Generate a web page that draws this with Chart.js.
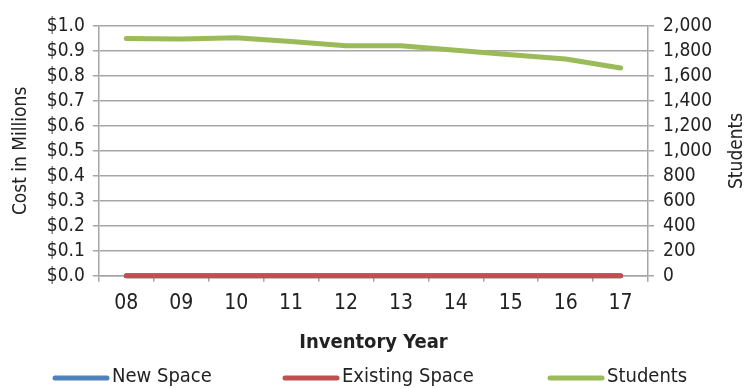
<!DOCTYPE html>
<html>
<head>
<meta charset="utf-8">
<script src="https://cdn.jsdelivr.net/npm/chart.js@4/dist/chart.umd.min.js"></script>
<style>
  html, body { margin: 0; padding: 0; background: #fff; }
  #wrap { width: 752px; height: 388px; }
</style>
</head>
<body>
<div id="wrap"><canvas id="costChart" width="752" height="388"></canvas></div>
<script>
const years = ["08", "09", "10", "11", "12", "13", "14", "15", "16", "17"];
const newSpace = [0, 0, 0, 0, 0, 0, 0, 0, 0, 0];
const existingSpace = [0, 0, 0, 0, 0, 0, 0, 0, 0, 0];
const students = [1900, 1895, 1905, 1875, 1842, 1842, 1805, 1770, 1735, 1663];

const FONT = "'DejaVu Sans Condensed', 'DejaVu Sans', sans-serif";
const gridGray = "#a6a6a6";
const textColor = "#222";

// right axis title reads bottom-to-top, and the legend is spaced wider than
// Chart.js allows, so both are drawn by hand
const extras = {
  id: "extras",
  afterDraw(chart) {
    const ctx = chart.ctx;
    const y = chart.scales.y1;
    ctx.save();
    ctx.fillStyle = textColor;
    ctx.font = "19px " + FONT;
    ctx.textAlign = "center";
    ctx.textBaseline = "middle";
    ctx.translate(737, (y.top + y.bottom) / 2);
    ctx.rotate(-Math.PI / 2);
    ctx.fillText("Students", 0, 0);
    ctx.restore();

    const starts = [55, 285, 550];
    ctx.save();
    ctx.font = "20px " + FONT;
    ctx.textBaseline = "middle";
    ctx.lineCap = "round";
    chart.data.datasets.forEach((ds, i) => {
      const x = starts[i];
      ctx.strokeStyle = ds.borderColor;
      ctx.lineWidth = 5;
      ctx.beginPath();
      ctx.moveTo(x, 378);
      ctx.lineTo(x + 52, 378);
      ctx.stroke();
      ctx.fillStyle = textColor;
      ctx.fillText(ds.label, x + 57, 377);
    });
    ctx.restore();
  },
};

const ctx = document.getElementById("costChart").getContext("2d");
new Chart(ctx, {
  type: "line",
  data: {
    labels: years,
    datasets: [
      {
        label: "New Space",
        data: newSpace,
        borderColor: "#4f81bd",
        borderWidth: 5,
        borderCapStyle: "round",
        pointRadius: 0,
        clip: false,
        yAxisID: "y",
        order: 3,
      },
      {
        label: "Existing Space",
        data: existingSpace,
        borderColor: "#c0504d",
        borderWidth: 5,
        borderCapStyle: "round",
        pointRadius: 0,
        clip: false,
        yAxisID: "y",
        order: 2,
      },
      {
        label: "Students",
        data: students,
        borderColor: "#9bbb59",
        borderWidth: 5,
        borderCapStyle: "round",
        pointRadius: 0,
        clip: false,
        yAxisID: "y1",
        order: 1,
      },
    ],
  },
  options: {
    responsive: false,
    animation: false,
    layout: { padding: { top: 26, right: 31, left: 10, bottom: 33 } },
    plugins: {
      tooltip: { enabled: false },
      legend: { display: false },
    },
    scales: {
      x: {
        offset: true,
        grid: {
          offset: true,
          drawOnChartArea: false,
          color: gridGray,
          tickLength: 6,
          lineWidth: 1.5,
        },
        border: { color: gridGray, width: 1.5 },
        ticks: { font: { family: FONT, size: 21 }, color: textColor, padding: 9 },
        title: {
          display: true,
          text: "Inventory Year",
          font: { family: FONT, size: 20, weight: "bold" },
          color: textColor,
          padding: { top: 6, bottom: 0 },
        },
      },
      y: {
        position: "left",
        min: 0,
        max: 1,
        ticks: {
          stepSize: 0.1,
          autoSkip: false,
          font: { family: FONT, size: 19 },
          color: textColor,
          padding: 8,
          callback: (v) => "$" + Number(v).toFixed(1),
        },
        grid: { color: gridGray, lineWidth: 1.5, tickLength: 6 },
        border: { color: gridGray, width: 1.5 },
        title: {
          display: true,
          text: "Cost in Millions",
          font: { family: FONT, size: 19 },
          color: textColor,
          padding: { top: 0, bottom: 6 },
        },
      },
      y1: {
        position: "right",
        min: 0,
        max: 2000,
        ticks: {
          stepSize: 200,
          autoSkip: false,
          font: { family: FONT, size: 19 },
          color: textColor,
          padding: 9,
          callback: (v) => v.toLocaleString("en-US"),
        },
        grid: { drawOnChartArea: false, color: gridGray, lineWidth: 1.5, tickLength: 6 },
        border: { color: gridGray, width: 1.5 },
      },
    },
  },
  plugins: [extras],
});
</script>
</body>
</html>
